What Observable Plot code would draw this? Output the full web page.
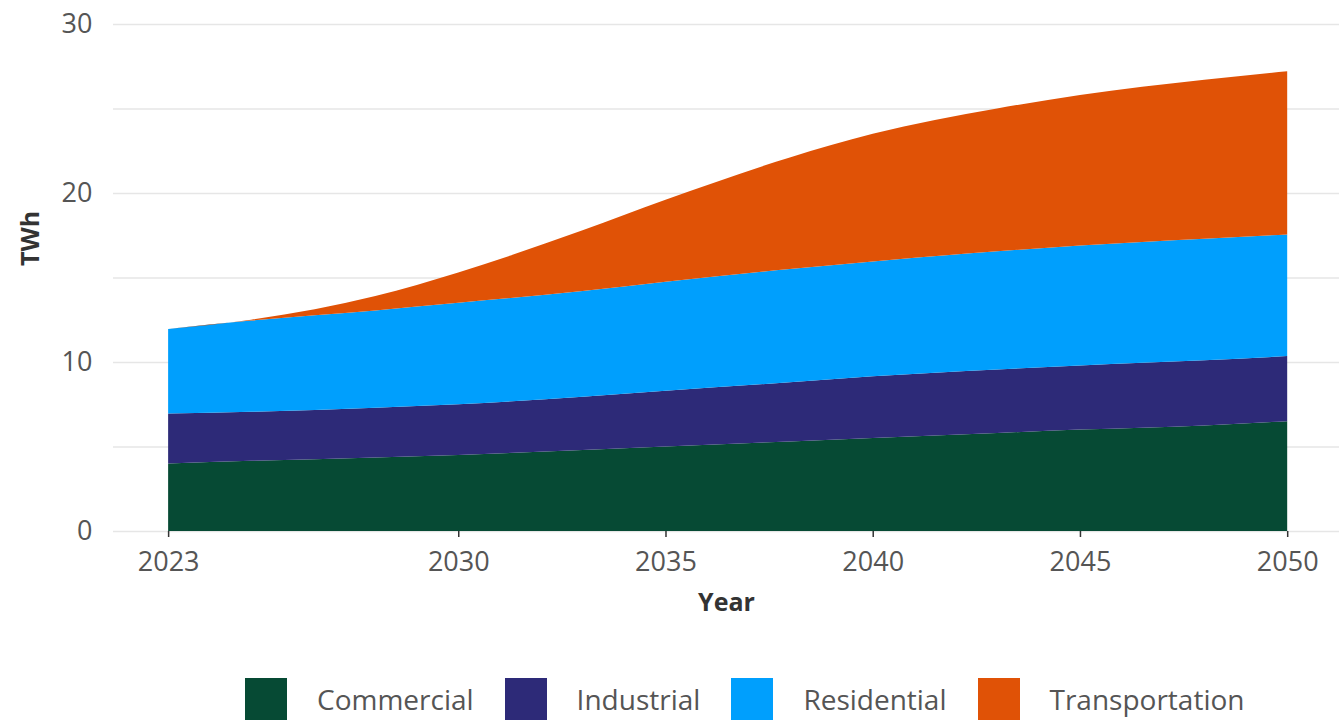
<!DOCTYPE html>
<html>
<head>
<meta charset="utf-8">
<script src="https://cdn.jsdelivr.net/npm/d3@7"></script>
<script src="https://cdn.jsdelivr.net/npm/@observablehq/plot@0.6"></script>
<style>
  html, body { margin: 0; padding: 0; background: #fff; }
  body { width: 1339px; height: 721px; overflow: hidden; font-family: "Open Sans", sans-serif; }
  #legend { display: flex; justify-content: flex-start; align-items: center; margin-top: 38px; padding-left: 245px; }
  .item { display: flex; align-items: center; margin-right: 31px; }
  .sw { width: 42px; height: 42px; margin-right: 30px; }
  .lab { font-size: 28px; color: #555; }
</style>
</head>
<body>
<div id="chart"></div>
<div id="legend"></div>
<script>
const years = [2023, 2025, 2028, 2030, 2033, 2035, 2038, 2040, 2043, 2045, 2048, 2050];
const commercial     = [4.0, 4.15, 4.35, 4.5, 4.8, 5.0, 5.3, 5.5, 5.8, 6.0, 6.25, 6.5];
const industrial     = [2.95, 2.9, 2.95, 3.0, 3.15, 3.3, 3.5, 3.65, 3.75, 3.8, 3.85, 3.85];
const residential    = [5.0, 5.4, 5.75, 6.0, 6.25, 6.45, 6.7, 6.8, 7.0, 7.1, 7.2, 7.2];
const transportation = [0, 0.05, 0.85, 1.8, 3.6, 4.85, 6.6, 7.55, 8.45, 8.9, 9.4, 9.65];

const sectors = ["Commercial", "Industrial", "Residential", "Transportation"];
const colors = ["#064a34", "#2d2a78", "#009ffd", "#e05206"];
const xTicks = [2023, 2030, 2035, 2040, 2045, 2050];
const yTicks = [0, 10, 20, 30];
const gridLines = [0, 5, 10, 15, 20, 25, 30];

const series = [commercial, industrial, residential, transportation];
const data = [];
sectors.forEach((s, i) => years.forEach((y, j) => data.push({year: y, sector: s, value: series[i][j]})));

const chart = Plot.plot({
  width: 1339,
  height: 640,
  marginLeft: 113,
  marginRight: 0,
  marginTop: 24,
  marginBottom: 109,
  style: {fontFamily: "'Open Sans', sans-serif", fontSize: "27px", color: "#555", background: "#fff"},
  x: {domain: [2021.67, 2051.25]},
  y: {domain: [0, 30]},
  color: {domain: sectors, range: colors},
  marks: [
    Plot.ruleY(gridLines, {stroke: "#e6e6e6", strokeWidth: 1.5}),
    Plot.areaY(data, Plot.stackY({order: sectors}, {x: "year", y: "value", fill: "sector", curve: "monotone-x"})),
    Plot.axisX({ticks: xTicks, tickFormat: d => String(d), tickSize: 6, tickPadding: 14, stroke: "#333", strokeWidth: 1.5, label: null, fill: "#555"}),
    Plot.axisY({ticks: yTicks, tickSize: 0, tickPadding: 21, label: null, fill: "#555"}),
    Plot.text(["Year"], {frameAnchor: "bottom", dy: 79, fontWeight: "bold", fill: "#333", fontSize: 25}),
    Plot.text(["TWh"], {frameAnchor: "left", dx: -83, dy: -12, rotate: -90, fontWeight: "bold", fill: "#333", fontSize: 25})
  ]
});
document.getElementById("chart").appendChild(chart);

const legend = document.getElementById("legend");
sectors.forEach((s, i) => {
  const item = document.createElement("div");
  item.className = "item";
  const sw = document.createElement("div");
  sw.className = "sw";
  sw.style.background = colors[i];
  const lab = document.createElement("span");
  lab.className = "lab";
  lab.textContent = s;
  item.appendChild(sw);
  item.appendChild(lab);
  legend.appendChild(item);
});
</script>
</body>
</html>
